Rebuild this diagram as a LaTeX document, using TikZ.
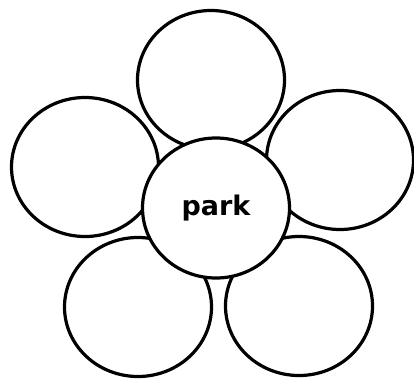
\documentclass[tikz,border=0pt]{standalone}
\usepackage{fontspec}
\newfontfamily\labelfont{DejaVu Sans}
\usetikzlibrary{shapes.geometric}
\begin{document}
\begin{tikzpicture}[x=1pt,y=-1pt,
  petal/.style={ellipse,draw=black,fill=white,line width=3.2pt,inner sep=0pt,
    minimum width=147pt,minimum height=139pt},
  hub/.style={ellipse,draw=black,fill=white,line width=3.2pt,inner sep=0pt,
    minimum width=147pt,minimum height=140pt,
    font=\labelfont\bfseries\fontsize{27}{32}\selectfont}]
\useasboundingbox (0,0) rectangle (414,386);
\node[petal] (pl) at (85,167) {};
\node[petal] (pt) at (211,80) {};
\node[petal] (pr) at (340,160) {};
\node[petal] (pbl) at (138,307) {};
\node[petal] (pbr) at (299,306) {};
\node[hub] (c) at (216,208) {park};
\end{tikzpicture}
\end{document}
